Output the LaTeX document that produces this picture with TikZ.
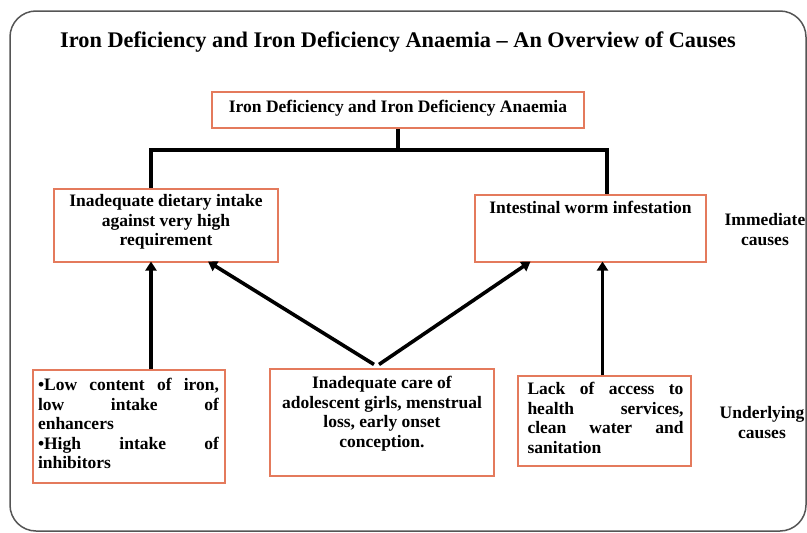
\documentclass[tikz,border=0pt]{standalone}
\usepackage{fontspec}
\setmainfont{Liberation Serif}
\usetikzlibrary{arrows.meta,calc}
\definecolor{boxorange}{RGB}{228,122,92}
\definecolor{framegray}{RGB}{85,85,85}
\tikzset{
  causebox/.style={draw=boxorange, line width=1.1pt, fill=white, inner sep=0pt},
  txt/.style={font=\fontsize{17.5}{19.5}\selectfont\bfseries, inner sep=0pt, align=center},
  jtxt/.style={font=\fontsize{17.5}{19.5}\selectfont\bfseries, inner sep=0pt, align=justify},
  treeline/.style={line width=3.6pt, black},
  uparrow/.style={line width=3.6pt, black, -{Triangle[length=9pt,width=11pt]}},
  sidelabel/.style={font=\fontsize{17.5}{20}\selectfont\bfseries, inner sep=0pt, align=center}
}
\begin{document}
\begin{tikzpicture}[x=1pt,y=-1pt]
\useasboundingbox (0,0) rectangle (807,533);
% outer frame
\draw[framegray, line width=1.5pt, rounded corners=26pt] (10,11) rectangle (806,531);
% title
\node[anchor=base, inner sep=0pt, font=\fontsize{22.3}{26}\selectfont\bfseries] (title) at (398,47)
  {Iron Deficiency and Iron Deficiency Anaemia -- An Overview of Causes};
% top box
\node[causebox, minimum width=372pt, minimum height=36pt] (top) at (398,110) {};
\node[txt] (toptxt) at (398,108) {Iron Deficiency and Iron Deficiency Anaemia};
% immediate boxes
\node[causebox, minimum width=224pt, minimum height=73pt] (lb) at (166,225.5) {};
\node[txt] (lbtxt) at (166,222) {Inadequate dietary intake\\against very high\\requirement};
\node[causebox, minimum width=231pt, minimum height=67pt] (rb) at (590.5,228.5) {};
\node[txt, anchor=north] (rbtxt) at ($(rb.north)+(0,7)$) {Intestinal worm infestation};
% underlying boxes
\node[causebox, minimum width=192pt, minimum height=113pt] (bl) at (129,426.5) {};
\node[jtxt, text width=181pt, anchor=north] (bltxt) at ($(bl.north)+(-0.5,9)$)
  {\noindent •Low content of iron,\linebreak low intake of\linebreak enhancers\\
   •High intake of\linebreak inhibitors\par};
\node[causebox, minimum width=224pt, minimum height=107pt] (bc) at (382,422.5) {};
\node[txt, anchor=north] (bctxt) at ($(bc.north)+(0,8)$)
  {Inadequate care of\\adolescent girls, menstrual\\loss, early onset\\conception.};
\node[causebox, minimum width=173pt, minimum height=90pt] (br) at (604.5,421) {};
\node[jtxt, text width=156pt, anchor=north] (brtxt) at ($(br.north)+(1,7)$)
  {\noindent Lack of access to\linebreak health services,\linebreak clean water and\linebreak sanitation\par};
% side labels
\node[sidelabel] (imm) at (765,230) {Immediate\\causes};
\node[sidelabel] (und) at (762,423) {Underlying\\causes};
% tree from top box
\coordinate (hub) at (398,150);
\draw[treeline] (top.south) -- (hub);
\draw[treeline] ($(lb.north)+(-15,0)$) |- (hub) -| ($(rb.north)+(16.5,0)$);
% arrows
\draw[uparrow] ($(bl.north)+(22,0)$) -- ($(lb.south)+(-15,-1)$);
\draw[uparrow] ($(bc.north)+(-8,-4)$) -- ($(lb.south)+(42,-1)$);
\draw[uparrow] ($(bc.north)+(-3,-4)$) -- ($(rb.south)+(-60,-1)$);
\draw[uparrow] ($(br.north)+(-2,0)$) -- ($(rb.south)+(12,-1)$);
\end{tikzpicture}
\end{document}
